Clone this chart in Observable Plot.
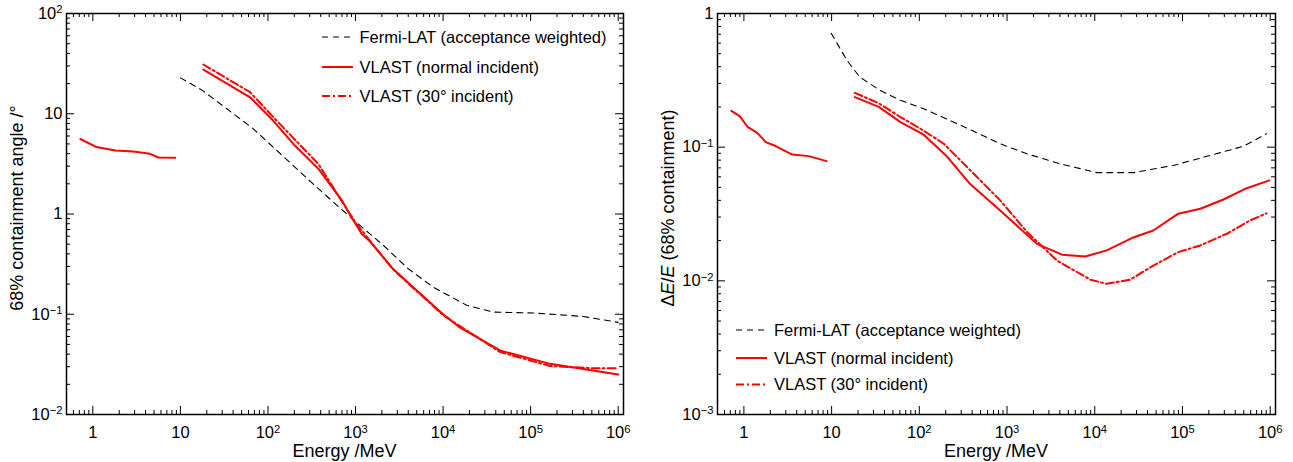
<!DOCTYPE html>
<html><head><meta charset="utf-8">
<script src="https://cdn.jsdelivr.net/npm/d3@7"></script>
<script src="https://cdn.jsdelivr.net/npm/@observablehq/plot@0.6"></script>
<style>
body{margin:0;background:#fff;}
#wrap{display:flex;width:1293px;height:462px;overflow:hidden;}
svg{display:block;}
</style></head><body><div id="wrap"></div>
<script>
// ---------- Left panel: 68% containment angle (deg) ----------
const psfLowE      = [0.72, 1.1, 1.8, 2.9, 4.5, 5.6, 8.7];
const psfLowNormal = [5.6, 4.65, 4.3, 4.2, 3.98, 3.66, 3.63];

const psfNormalE   = [18.3, 62.5, 115, 195, 376, 700, 870, 1175, 1465, 2680, 3240, 10000, 15500, 44700, 166000, 1000000];
const psfNormal    = [27.6, 14.6, 8.5, 5.0, 2.83, 1.36, 0.97, 0.634, 0.53, 0.284, 0.243, 0.1, 0.074, 0.0435, 0.032, 0.025];

const psf30E       = [18.3, 62.5, 120, 376, 790, 1000, 2680, 10000, 44700, 166000, 500000, 1000000];
const psf30        = [31, 16.4, 8.9, 3.16, 1.13, 0.82, 0.28, 0.098, 0.042, 0.0305, 0.029, 0.029];

const psfFermiE    = [10, 18, 68, 360, 870, 2090, 4000, 7740, 18600, 37400, 108000, 400000, 1000000];
const psfFermi     = [22.8, 17, 7.08, 1.85, 0.93, 0.485, 0.284, 0.186, 0.123, 0.105, 0.103, 0.095, 0.083];

// ---------- Right panel: dE/E (68% containment) ----------
const resLowE      = [0.72, 0.9, 1.11, 1.42, 1.77, 2.3, 3.56, 5.5, 8.75];
const resLowNormal = [0.187, 0.17, 0.141, 0.128, 0.109, 0.102, 0.088, 0.0857, 0.0786];

const resNormalE   = [18.4, 34.5, 61, 112, 207, 380, 835, 2190, 4230, 7800, 13700, 26500, 46500, 89600, 160000, 293000, 540000, 980000];
const resNormal    = [0.237, 0.2, 0.154, 0.124, 0.085, 0.053, 0.0336, 0.0189, 0.0157, 0.0152, 0.0169, 0.0209, 0.0238, 0.0318, 0.0346, 0.0406, 0.0493, 0.0564];

const res30E       = [18.4, 34.5, 61, 112, 190, 350, 835, 1700, 3700, 8900, 13700, 25300, 46500, 89600, 160000, 320000, 590000, 910000];
const res30        = [0.255, 0.213, 0.168, 0.133, 0.106, 0.071, 0.04, 0.0231, 0.0142, 0.0102, 0.0095, 0.0102, 0.013, 0.0164, 0.0184, 0.0225, 0.0283, 0.032];

const resFermiE    = [9.9, 15, 21, 36, 61, 112, 365, 836, 1700, 4050, 10600, 27600, 79000, 206000, 497000, 910000];
const resFermi     = [0.71, 0.445, 0.334, 0.265, 0.224, 0.194, 0.137, 0.106, 0.089, 0.075, 0.0645, 0.0645, 0.073, 0.0867, 0.1016, 0.126];

// ---------- axes / labels ----------
const xDomain      = [0.5, 1.15e6];
const xMajorTicks  = [1, 10, 100, 1e3, 1e4, 1e5, 1e6];
const yLeftDomain  = [0.01, 100];
const yLeftTicks   = [0.01, 0.1, 1, 10, 100];
const yRightDomain = [0.001, 1];
const yRightTicks  = [0.001, 0.01, 0.1, 1];
const xTitle       = "Energy /MeV";
const yLeftTitle   = "68% containment angle /°";
const legendLabels = ["Fermi-LAT (acceptance weighted)", "VLAST (normal incident)", "VLAST (30° incident)"];

const FONT = "'Liberation Sans', Arial, Helvetica, sans-serif";
const H = 462, MT = 13, MB = 48;
const PH = H - MT - MB;

const styles = [
  {stroke: "#000", strokeWidth: 1.1, strokeDasharray: "6,5"},
  {stroke: "#f00", strokeWidth: 2},
  {stroke: "#f00", strokeWidth: 2, strokeDasharray: "8,3,2,3"}
];

function fmt(d) {
  const e = Math.round(Math.log10(d));
  if (e === 0) return "1";
  if (e === 1) return "10";
  return "10^" + e;
}
function allLogTicks(domain) {
  const out = [];
  const e0 = Math.floor(Math.log10(domain[0])), e1 = Math.ceil(Math.log10(domain[1]));
  for (let e = e0; e <= e1; e++) for (let m = 1; m <= 9; m++) {
    const v = +(m * Math.pow(10, e)).toPrecision(6);
    if (v >= domain[0] * 0.9999 && v <= domain[1] * 1.0001) out.push(v);
  }
  return out;
}
const pts = (E, V) => E.map((e, i) => ({e, v: V[i]}));

function panel(width, ml, mr, yDomain, yTicks, seriesList) {
  const PW = width - ml - mr;
  const xAll = allLogTicks(xDomain);
  const yAll = allLogTicks(yDomain);
  const isMajor = v => Math.abs(Math.log10(v) - Math.round(Math.log10(v))) < 1e-6;
  const xMin = xAll.filter(v => !isMajor(v)), xMaj = xAll.filter(isMajor);
  const yMin = yAll.filter(v => !isMajor(v)), yMaj = yAll.filter(isMajor);
  const tk = {stroke: "#000", strokeWidth: 1};
  const marks = [
    Plot.tickX(xMin, {x: d => d, insetTop: PH - 4, ...tk}),
    Plot.tickX(xMaj, {x: d => d, insetTop: PH - 8, ...tk}),
    Plot.tickX(xMin, {x: d => d, insetBottom: PH - 4, ...tk}),
    Plot.tickX(xMaj, {x: d => d, insetBottom: PH - 8, ...tk}),
    Plot.tickY(yMin, {y: d => d, insetRight: PW - 4, ...tk}),
    Plot.tickY(yMaj, {y: d => d, insetRight: PW - 8, ...tk}),
    Plot.tickY(yMin, {y: d => d, insetLeft: PW - 4, ...tk}),
    Plot.tickY(yMaj, {y: d => d, insetLeft: PW - 8, ...tk}),
    Plot.axisX({ticks: xMajorTicks, tickSize: 0, tickPadding: 12, tickFormat: fmt, label: null}),
    Plot.axisY({ticks: yTicks, tickSize: 0, tickPadding: 4, tickFormat: fmt, label: null})
  ];
  for (const s of seriesList) {
    marks.push(Plot.line(pts(s.E, s.V), {x: "e", y: "v", ...styles[s.style], strokeLinejoin: "round"}));
  }
  marks.push(Plot.frame({stroke: "#000", strokeWidth: 1.5}));
  return Plot.plot({
    width, height: H, marginLeft: ml, marginRight: mr, marginTop: MT, marginBottom: MB,
    style: {fontFamily: FONT, fontSize: "16.5px", color: "#000", background: "#fff", overflow: "visible"},
    x: {type: "log", domain: xDomain},
    y: {type: "log", domain: yDomain},
    marks
  });
}

function superscripts(svg) {
  d3.select(svg).selectAll("text").each(function () {
    const m = /^10\^(.+)$/.exec(this.textContent);
    if (m) {
      const s = d3.select(this);
      s.text("10");
      s.append("tspan").attr("dy", "-0.5em").attr("font-size", "0.68em").text(m[1].replace("-", "\u2212"));
    }
  });
}

function drawLegend(svg, x0, x1, xt, ys) {
  const g = d3.select(svg).append("g").attr("font-family", FONT).attr("font-size", "16.5px").attr("text-anchor", "start");
  legendLabels.forEach((lab, i) => {
    const st = styles[i];
    g.append("line").attr("x1", x0).attr("x2", x1).attr("y1", ys[i]).attr("y2", ys[i])
      .attr("stroke", st.stroke).attr("stroke-width", st.strokeWidth)
      .attr("stroke-dasharray", st.strokeDasharray || null);
    g.append("text").attr("x", xt).attr("y", ys[i]).attr("dy", "0.36em")
      .attr("text-anchor", "start").attr("fill", "#000").text(lab);
  });
}

function titles(svg, xcx, ycx, ycy, yTitleBuilder) {
  const s = d3.select(svg);
  s.append("text").attr("x", xcx).attr("y", 457).attr("text-anchor", "middle")
    .attr("font-family", FONT).attr("font-size", "18px").attr("fill", "#000").text(xTitle);
  const t = s.append("text").attr("transform", `translate(${ycx},${ycy}) rotate(-90)`)
    .attr("text-anchor", "middle").attr("dy", "0.36em")
    .attr("font-family", FONT).attr("font-size", "18px").attr("fill", "#000");
  yTitleBuilder(t);
}

const wrap = document.getElementById("wrap");

// Left
const left = panel(646, 66, 23, yLeftDomain, yLeftTicks, [
  {E: psfFermiE, V: psfFermi, style: 0},
  {E: psfLowE, V: psfLowNormal, style: 1},
  {E: psfNormalE, V: psfNormal, style: 1},
  {E: psf30E, V: psf30, style: 2}
]);
superscripts(left);
drawLegend(left, 322, 353, 359.5, [37, 67, 96]);
titles(left, 344.5, 17, 208, t => t.text(yLeftTitle));
wrap.appendChild(left);

// Right
const right = panel(647, 71, 18, yRightDomain, yRightTicks, [
  {E: resFermiE, V: resFermi, style: 0},
  {E: resLowE, V: resLowNormal, style: 1},
  {E: resNormalE, V: resNormal, style: 1},
  {E: res30E, V: res30, style: 2}
]);
superscripts(right);
drawLegend(right, 90, 121, 128, [330, 358, 384.5]);
titles(right, 350, 22, 208, t => {
  t.append("tspan").text("\u0394");
  t.append("tspan").attr("font-style", "italic").text("E");
  t.append("tspan").text("/");
  t.append("tspan").attr("font-style", "italic").text("E");
  t.append("tspan").text(" (68% containment)");
});
wrap.appendChild(right);
</script>
</body></html>
